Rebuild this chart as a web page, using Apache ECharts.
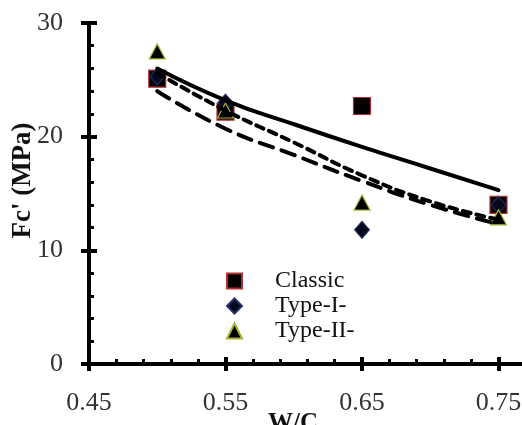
<!DOCTYPE html>
<html>
<head>
<meta charset="utf-8">
<script src="https://cdn.jsdelivr.net/npm/echarts@6/dist/echarts.min.js"></script>
<style>html,body{margin:0;padding:0;background:#fff}#main{width:522px;height:425px}</style>
</head>
<body>
<div id="main"></div>
<script>
var wc = [0.50, 0.55, 0.65, 0.75];
var classic = [25.1, 22.2, 22.7, 14.0];
var type1 = [25.3, 23.0, 11.8, 14.0];
var type2 = [27.5, 22.3, 14.2, 12.9];

// trend curves
var fitX = [0.50, 0.55, 0.60, 0.65, 0.70, 0.75];
var fitSolid = [26.0, 23.2, 21.1, 19.1, 17.2, 15.3];
var fitDashA = [25.6, 22.3, 19.5, 16.6, 14.3, 12.7];
var fitDashB = [24.0, 20.7, 18.4, 16.1, 14.0, 12.3];

function pairs(xs, ys) { return xs.map(function (x, i) { return [x, ys[i]]; }); }

var chart = echarts.init(document.getElementById('main'), null, {renderer: 'canvas'});
var serif = 'Liberation Serif';
var option = {
    animation: false,
    grid: {left: 89, right: -113, top: 23, bottom: 61, containLabel: false, outerBoundsMode: 'none'},
    legend: {
        data: ['Classic', 'Type-I-', 'Type-II-'],
        orient: 'vertical', left: 221, top: 264,
        itemWidth: 15, itemHeight: 15, itemGap: 1,
        textStyle: {fontFamily: serif, fontSize: 24, lineHeight: 22, color: '#111', padding: [0, 0, 0, 28]}
    },
    xAxis: [{
        type: 'value', min: 0.45, max: 0.85, interval: 0.1,
        name: 'W/C', nameLocation: 'middle', nameGap: 47, nameMoveOverlap: false,
        nameTextStyle: {fontFamily: serif, fontWeight: 'bold', fontSize: 25, color: '#111', padding: [0, 138, 0, 0]},
        axisLine: {lineStyle: {color: '#000', width: 4}},
        axisTick: {inside: true, length: 7, lineStyle: {color: '#000', width: 4}},
        minorTick: {show: true, splitNumber: 5, length: 5, lineStyle: {color: '#000', width: 3}},
        axisLabel: {fontFamily: serif, fontSize: 26, color: '#333', margin: 26, showMaxLabel: false,
            formatter: function (v) { return v.toFixed(2); }},
        splitLine: {show: false}
    }, {
        type: 'value', min: 0.45, max: 0.85, interval: 0.1, position: 'bottom',
        axisLine: {show: false},
        axisTick: {inside: false, length: 7, lineStyle: {color: '#000', width: 4}},
        axisLabel: {show: false}, splitLine: {show: false}
    }],
    yAxis: [{
        type: 'value', min: 0, max: 30, interval: 10,
        name: "Fc' (MPa)", nameLocation: 'middle', nameGap: 52, nameRotate: 90, nameMoveOverlap: false,
        nameTextStyle: {fontFamily: serif, fontWeight: 'bold', fontSize: 27, color: '#111', padding: [0, 0, 0, 26]},
        axisLine: {lineStyle: {color: '#000', width: 4}},
        axisTick: {inside: true, length: 8, lineStyle: {color: '#000', width: 4}},
        minorTick: {show: true, splitNumber: 5, length: 5, lineStyle: {color: '#000', width: 3}},
        axisLabel: {fontFamily: serif, fontSize: 26, color: '#333', margin: 26},
        splitLine: {show: false}
    }, {
        type: 'value', min: 0, max: 30, interval: 10, position: 'left',
        axisLine: {show: false},
        axisTick: {inside: false, length: 8, lineStyle: {color: '#000', width: 4}},
        axisLabel: {show: false}, splitLine: {show: false}
    }],
    series: [
        {name: 'Classic', type: 'scatter', symbol: 'rect', symbolSize: 17, data: pairs(wc, classic),
            itemStyle: {color: '#000', opacity: 1, borderColor: '#b03030', borderWidth: 1.2}, z: 2},
        {name: 'Type-I-', type: 'scatter', symbol: 'diamond', symbolSize: [15, 17], data: pairs(wc, type1),
            itemStyle: {color: '#050a1e', opacity: 1, borderColor: '#27306a', borderWidth: 1}, z: 2},
        {name: 'Type-II-', type: 'scatter', symbol: 'triangle', symbolSize: [16, 15], data: pairs(wc, type2),
            itemStyle: {color: '#000', opacity: 1, borderColor: '#a8b030', borderWidth: 1.2}, z: 2},
        {name: 'fit1', type: 'line', smooth: true, showSymbol: false, data: pairs(fitX, fitSolid),
            lineStyle: {color: '#000', width: 4, cap: 'round'}, z: 3},
        {name: 'fit2', type: 'line', smooth: true, showSymbol: false, data: pairs(fitX, fitDashA),
            lineStyle: {color: '#000', width: 4, type: [8, 6], cap: 'round'}, z: 3},
        {name: 'fit3', type: 'line', smooth: true, showSymbol: false, data: pairs(fitX, fitDashB),
            lineStyle: {color: '#000', width: 4, type: [14, 9], cap: 'round'}, z: 3}
    ]
};
chart.setOption(option);
</script>
</body>
</html>
